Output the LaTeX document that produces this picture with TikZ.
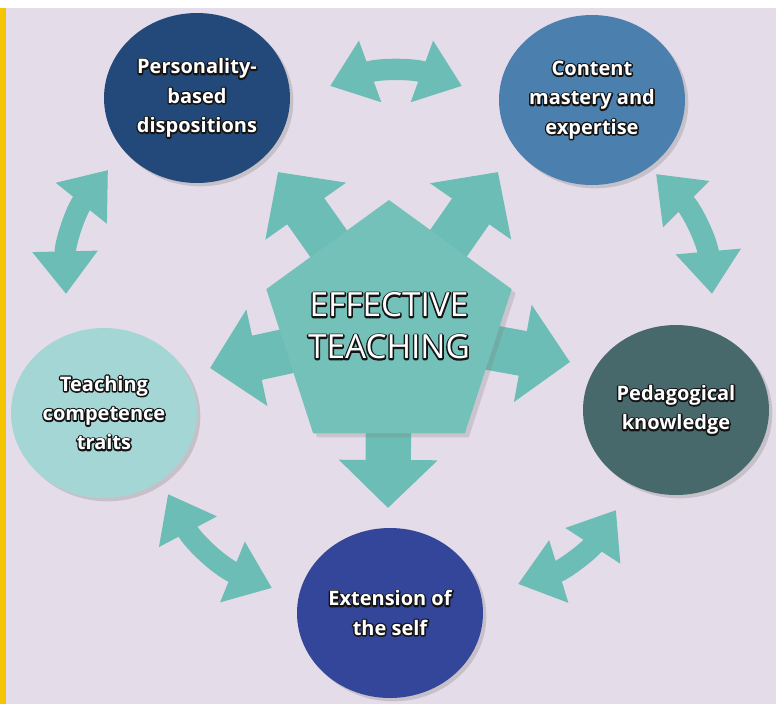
\documentclass[tikz,border=0pt]{standalone}
\usepackage{fontspec}
\setmainfont{Open Sans}
\usetikzlibrary{shapes.geometric,arrows.meta,shadows}

\definecolor{bglav}{HTML}{E5DCEA}
\definecolor{edgeyel}{HTML}{F5C400}
\definecolor{arrteal}{HTML}{6CBDB5}
\definecolor{pentteal}{HTML}{73C1B9}
\definecolor{navy}{HTML}{23497A}
\definecolor{steel}{HTML}{4B7FAE}
\definecolor{aqua}{HTML}{A5D6D6}
\definecolor{slate}{HTML}{47696B}
\definecolor{royal}{HTML}{33469A}

% white letters with a dark rim: stroked copy behind, filled copy on top
\newcommand{\olt}[1]{\rlap{\special{pdf:literal direct 1 Tr 2.2 w 1 j 0.08 G}#1\special{pdf:literal direct 0 Tr}}#1}

\tikzset{every picture/.style={line width=0.75pt}}
\tikzset{
  topic/.style={ellipse, inner sep=0pt, minimum width=139.5pt, minimum height=127.5pt,
    text=white, align=center, font=\bfseries\fontsize{15}{22}\selectfont,
    drop shadow={shadow xshift=2.5pt, shadow yshift=-2.5pt, opacity=.3}},
  spoke/.style={draw=arrteal, line width=34pt, -{Triangle[width=72pt,length=36pt]}},
  swap/.style={draw=arrteal, line width=16pt,
    {Triangle[width=47pt,length=32pt]}-{Triangle[width=47pt,length=32pt]}},
}

\begin{document}
\begin{tikzpicture}[x=0.75pt,y=0.75pt,yscale=-1,xscale=1]
\useasboundingbox (0,0) rectangle (776,704);

% page background
\fill[bglav] (0,0) rectangle (776,704);
\fill[white] (0,0) rectangle (776,8);
\fill[edgeyel] (0,8) rectangle (6,704);

% Text Node
\node[topic, fill=navy] (pers) at (197,98) {\olt{Personality-}\\\olt{based}\\\olt{dispositions}};
% Text Node
\node[topic, fill=steel] (cont) at (592,100) {\olt{Content}\\\olt{mastery and}\\\olt{expertise}};
% Text Node
\node[topic, fill=aqua] (comp) at (104,413) {\olt{Teaching}\\\olt{competence}\\\olt{traits}};
% Text Node
\node[topic, fill=slate] (peda) at (676,410) {\olt{Pedagogical}\\\olt{knowledge}};
% Text Node
\node[topic, fill=royal] (self) at (390,613) {\olt{Extension of}\\\olt{the self}};

% arrow ends
\coordinate (mid) at (389,329);
\coordinate (tUL) at (278,172);
\coordinate (tUR) at (498,172);
\coordinate (tL) at (210,368);
\coordinate (tR) at (570,362);
\coordinate (tD) at (388,508);

\coordinate (a1) at (330,86);
\coordinate (a2) at (462,86);
\coordinate (b1) at (656,174);
\coordinate (b2) at (712,294);
\coordinate (c1) at (616,510);
\coordinate (c2) at (518,584);
\coordinate (d1) at (272,588);
\coordinate (d2) at (168,494);
\coordinate (e1) at (66,294);
\coordinate (e2) at (108,170);

% spokes out of the centre
\draw[spoke] (mid) -- (tUL);
\draw[spoke] (mid) -- (tUR);
\draw[spoke] (mid) -- (tL);
\draw[spoke] (mid) -- (tR);
\draw[spoke] (mid) -- (tD);

% two-way arrows round the ring
\draw[swap] (a1) to[bend right=20] (a2);
\draw[swap] (b1) to[bend right=20] (b2);
\draw[swap] (c1) to[bend right=20] (c2);
\draw[swap] (d1) to[bend right=20] (d2);
\draw[swap] (e1) to[bend right=20] (e2);

% Text Node
\node[regular polygon, regular polygon sides=5, minimum size=193.5pt, inner sep=0pt,
  fill=pentteal, drop shadow={shadow xshift=3pt, shadow yshift=-3pt, opacity=.25}] (eff) at (mid) {};
\node[text=white, align=center, font=\fontsize{25}{31.5}\selectfont] (efftxt) at (389,326)
  {\olt{EFFECTIVE}\\\olt{TEACHING}};

\end{tikzpicture}
\end{document}
